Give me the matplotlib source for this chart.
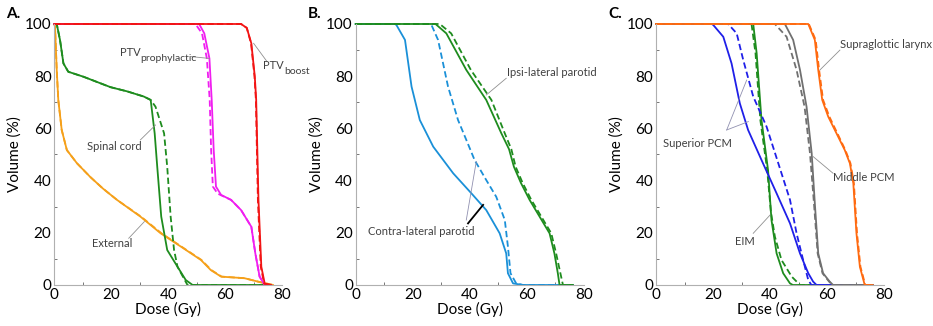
import numpy as np
import matplotlib.pyplot as plt

plt.rcParams['font.family'] = ['Lato', 'DejaVu Sans']

# ---- panel A ----
boost_x = [0, 65.5, 67.5, 69.1, 70.3, 70.8, 71.6, 72.6, 73.8, 76]
boost_y = [100, 100, 98.5, 92.6, 80, 71, 32.6, 7, 0.5, 0]
boost_dx = [0, 65.5, 67.5, 69.0, 70.2, 70.7, 71.4, 72.4, 73.6, 76]
boost_dy = [100, 100, 98.5, 92.6, 80, 71, 32.6, 7, 0.5, 0]

proph_x = [0, 50.8, 52.6, 54.4, 55.2, 55.9, 56.7, 58.5, 62, 65.5, 69.1, 70.5, 72, 73.8, 76]
proph_y = [100, 100, 96.4, 86.8, 70.9, 51.7, 37.7, 34.5, 32.6, 28.7, 22.3, 12.1, 3.2, 0, 0]
proph_dx = [0, 49.5, 51.8, 53.5, 54.5, 55.0, 55.6, 57.3, 62, 65.5, 69.1, 70.5, 72, 73.8, 76]
proph_dy = [100, 100, 96.4, 86.8, 70.9, 51.7, 37.7, 35, 32.6, 28.7, 22.3, 12.1, 3.2, 0, 0]

cord_x = [0, 0.85, 2.0, 3.2, 4.9, 10.2, 19.7, 25.5, 31.4, 33.8, 35.2, 36.1, 37.5, 39.6, 43.2, 46.1, 48.5, 76]
cord_y = [100, 100, 93.9, 84.9, 81.7, 79.8, 75.8, 74.2, 72.2, 70.9, 58.1, 45.3, 26.2, 13.4, 7, 1.9, 0, 0]
cord_dx = [0, 0.85, 2.0, 3.2, 4.9, 10.2, 19.7, 25.5, 31.4, 33.8, 35.5, 38.5, 39.6, 40.8, 42.0, 43.2, 46.7, 76]
cord_dy = [100, 100, 93.9, 84.9, 81.7, 79.8, 75.8, 74.2, 72.2, 70.9, 68.3, 58.1, 45.3, 26.2, 13.4, 7, 0, 0]

ext_x = [0, 0.25, 0.85, 1.4, 2.6, 4.4, 7.9, 12.6, 17.0, 22.0, 30.2, 37.3, 44.4, 51.4, 54.9, 58.5, 66.7, 71.4, 76.7]
ext_y = [100, 99, 82.4, 70.9, 59.4, 51.7, 46.7, 41.4, 37.0, 32.6, 26.2, 19.8, 14.7, 9.6, 5.7, 3.2, 2.6, 1.3, 0]
ext_dx = [0, 0.25, 0.85, 1.4, 2.6, 4.4, 7.9, 12.6, 17.0, 22.0, 30.4, 37.6, 44.6, 51.6, 55.1, 58.7, 66.7, 71.4, 76.7]
ext_dy = [100, 99, 82.4, 70.9, 59.4, 51.7, 46.7, 41.4, 37.0, 32.6, 26.2, 19.8, 14.7, 9.6, 5.7, 3.2, 2.6, 1.3, 0]

# ---- panel B ----
contra_x = [0, 13.8, 14.3, 17.3, 19.6, 22.5, 27.2, 34.2, 40.6, 45.8, 50.5, 52.8, 53.4, 55.2, 58.7, 76.2]
contra_y = [100, 100, 99.6, 93.9, 76, 63.2, 53, 42.8, 35.1, 28.7, 19.8, 12.1, 4.5, 0.6, 0, 0]
contra_dx = [0, 25.8, 26.6, 28.9, 32.4, 35.9, 38.8, 41.7, 45.8, 49.3, 52.3, 53.4, 54.3, 56.3, 58.7, 76.2]
contra_dy = [100, 100, 99.6, 93.9, 76, 63.2, 55.6, 47.9, 40.2, 33.8, 24.9, 14.7, 4.5, 0.6, 0, 0]

ipsi_x = [0, 28.0, 31.8, 38.8, 45.8, 51.1, 53.8, 55.5, 58.0, 61.0, 68.0, 69.7, 70.9, 71.5, 76.2]
ipsi_y = [100, 100, 96.4, 82.4, 70.9, 58.1, 52, 45.3, 39, 32.6, 19.8, 12.1, 4.5, 0, 0]
ipsi_dx = [0, 29.5, 33.5, 40.4, 47.6, 52.3, 54.6, 56.1, 58.6, 61.6, 68.6, 70.3, 71.8, 72.7, 76.2]
ipsi_dy = [100, 100, 96.4, 82.4, 70.9, 58.1, 52, 45.3, 39, 32.6, 19.8, 12.1, 4.5, 0, 0]

# ---- panel C ----
spcm_x = [0, 19.6, 20.1, 23.6, 26.5, 29.4, 32.3, 37.0, 42.3, 47.0, 50.5, 53.4, 55.1, 56.3, 76]
spcm_y = [100, 100, 99.6, 95.1, 84.9, 69.6, 59.4, 47.9, 35.1, 23.6, 12.1, 4.5, 1.3, 0, 0]
spcm_dx = [0, 25.3, 28.3, 30.6, 34.1, 38.8, 42.9, 47.0, 49.3, 51.6, 53.4, 54.5, 76]
spcm_dy = [100, 100, 96.4, 86.2, 72.2, 60.6, 46.6, 32.6, 19.8, 9.6, 1.9, 0, 0]

eim_x = [0, 34.1, 35.3, 37.0, 39.3, 40.5, 42.3, 44.6, 47.0, 48.0, 76]
eim_y = [100, 100, 88.8, 63.2, 44, 24.9, 12.1, 4.5, 0.6, 0, 0]
eim_dx = [0, 33.5, 34.9, 36.6, 39.0, 40.3, 41.7, 44.0, 47.6, 50.5, 76]
eim_dy = [100, 100, 88.8, 63.2, 44, 28, 18.5, 9.6, 3.2, 0, 0]

mpcm_x = [0, 45.2, 48.1, 50.5, 52.8, 54.6, 55.7, 56.9, 58.6, 60.9, 62.1, 76]
mpcm_y = [100, 100, 93.9, 82.4, 68.3, 50.5, 31.3, 12.1, 4.5, 1.3, 0, 0]
mpcm_dx = [0, 41.7, 45.8, 49.3, 52.1, 54.0, 55.4, 56.7, 58.4, 60.7, 62.0, 76]
mpcm_dy = [100, 100, 95.1, 82.4, 68.3, 50.5, 31.3, 12.1, 4.5, 1.3, 0, 0]

supra_x = [0, 53.4, 55.7, 56.9, 58.3, 60.4, 63.3, 66.2, 68.0, 69.2, 70.3, 71.5, 73.2, 76]
supra_y = [100, 100, 93.9, 82.4, 70.9, 64.5, 58.1, 51.7, 46.6, 39, 19.8, 7, 0, 0]
supra_dx = [0, 53.6, 56.0, 57.2, 58.6, 60.8, 63.6, 66.4, 68.2, 69.4, 70.5, 71.7, 73.4, 76]
supra_dy = [100, 100, 93.9, 82.4, 70.9, 64.5, 58.1, 51.7, 46.6, 39, 19.8, 7, 0, 0]

fig = plt.figure(figsize=(9.33, 3.26), dpi=100)
lefts = [0.0582, 0.3812, 0.7031]
axes = [fig.add_axes([l, 0.1258, 0.2445, 0.8006]) for l in lefts]

DASH = (0, (3.5, 1.8))
LW = 1.3
LEAD = '#909090'


def style(ax, letter):
    ax.set_xlim(0, 80)
    ax.set_ylim(0, 100)
    for s in ['top', 'right']:
        ax.spines[s].set_visible(False)
    for s in ['left', 'bottom']:
        ax.spines[s].set_color('#b0b0b0')
        ax.spines[s].set_linewidth(0.8)
    ax.set_xticks(np.arange(0, 81, 20))
    ax.set_yticks(np.arange(0, 101, 20))
    ax.set_xticks(np.arange(0, 81, 10), minor=True)
    ax.set_yticks(np.arange(0, 101, 10), minor=True)
    ax.tick_params(which='both', direction='in', length=2.5, color='#606060',
                   labelsize=11, pad=2)
    ax.tick_params(which='major', length=0)
    ax.set_xlabel('Dose (Gy)', fontsize=11, labelpad=0)
    ax.set_ylabel('Volume (%)', fontsize=11, labelpad=2)
    ax.text(-0.21, 1.04, letter, transform=ax.transAxes, fontsize=11,
            fontweight='bold', ha='left', va='center')


def pair(ax, x, y, dx, dy, color):
    ax.plot(dx, dy, color=color, lw=LW, ls=DASH, clip_on=False)
    ax.plot(x, y, color=color, lw=LW, clip_on=False)


def label(ax, txt, tx, ty, lines, ha='left'):
    ax.text(tx, ty, txt, fontsize=8, color='#404040', ha=ha, va='center',
            clip_on=False)
    for (x0, y0, x1, y1, w, c) in lines:
        ax.plot([x0, x1], [y0, y1], color=c, lw=w, clip_on=False)


def sublabel(ax, main, sub, tx, ty):
    ax.annotate(main, (tx, ty), fontsize=8, color='#404040', ha='right',
                va='center', annotation_clip=False)
    ax.annotate(sub, (tx, ty), xytext=(0, -4), textcoords='offset points',
                fontsize=7.5, color='#404040', ha='left', va='center',
                annotation_clip=False)


axA, axB, axC = axes
for ax, l in zip(axes, ['A.', 'B.', 'C.']):
    style(ax, l)

pair(axA, ext_x, ext_y, ext_dx, ext_dy, '#f5a01a')
pair(axA, cord_x, cord_y, cord_dx, cord_dy, '#1e8c1e')
pair(axA, proph_x, proph_y, proph_dx, proph_dy, '#f01ef0')
pair(axA, boost_x, boost_y, boost_dx, boost_dy, '#f21414')

sublabel(axA, 'PTV', 'prophylactic', 30.2, 89)
axA.plot([48.0, 54.4], [87.5, 86.8], color=LEAD, lw=0.6)
sublabel(axA, 'PTV', 'boost', 80.5, 84)
axA.plot([74.6, 69.9], [85.6, 92.6], color=LEAD, lw=0.6, clip_on=False)
label(axA, 'Spinal cord', 11.6, 53, [(30.2, 55.6, 35.5, 61.3, 0.6, LEAD)])
label(axA, 'External', 13.3, 16, [(26.1, 17.9, 31.6, 24.3, 0.6, LEAD)])

pair(axB, contra_x, contra_y, contra_dx, contra_dy, '#1a90d8')
pair(axB, ipsi_x, ipsi_y, ipsi_dx, ipsi_dy, '#1e8c1e')
label(axB, 'Ipsi-lateral parotid', 53, 81.6, [(52.8, 79.2, 45.8, 72.8, 0.6, LEAD)])
label(axB, 'Contra-lateral parotid', 4.4, 20.4,
      [(38.8, 24.9, 42.3, 47.3, 0.6, '#9090b0'),
       (39.4, 23.6, 44.7, 30.7, 1.3, 'black')])

pair(axC, eim_x, eim_y, eim_dx, eim_dy, '#1e8c1e')
pair(axC, spcm_x, spcm_y, spcm_dx, spcm_dy, '#1f1fe8')
pair(axC, mpcm_x, mpcm_y, mpcm_dx, mpcm_dy, '#707070')
pair(axC, supra_x, supra_y, supra_dx, supra_dy, '#ff6a10')
label(axC, 'Supraglottic larynx', 64.5, 92, [(64.5, 90, 57.5, 82.4, 0.6, LEAD)])
label(axC, 'Middle PCM', 62, 41, [(62.1, 42.8, 55.1, 49.2, 0.6, LEAD)])
label(axC, 'Superior PCM', 2.6, 54.3,
      [(24.8, 59.4, 31.8, 78.5, 0.6, '#9090b0'),
       (24.8, 59.4, 32.4, 62.6, 0.6, '#9090b0')])
label(axC, 'EIM', 27.7, 16.6, [(34.1, 19.8, 40.0, 26.8, 0.6, LEAD)])

fig.savefig('out.png', dpi=100)
